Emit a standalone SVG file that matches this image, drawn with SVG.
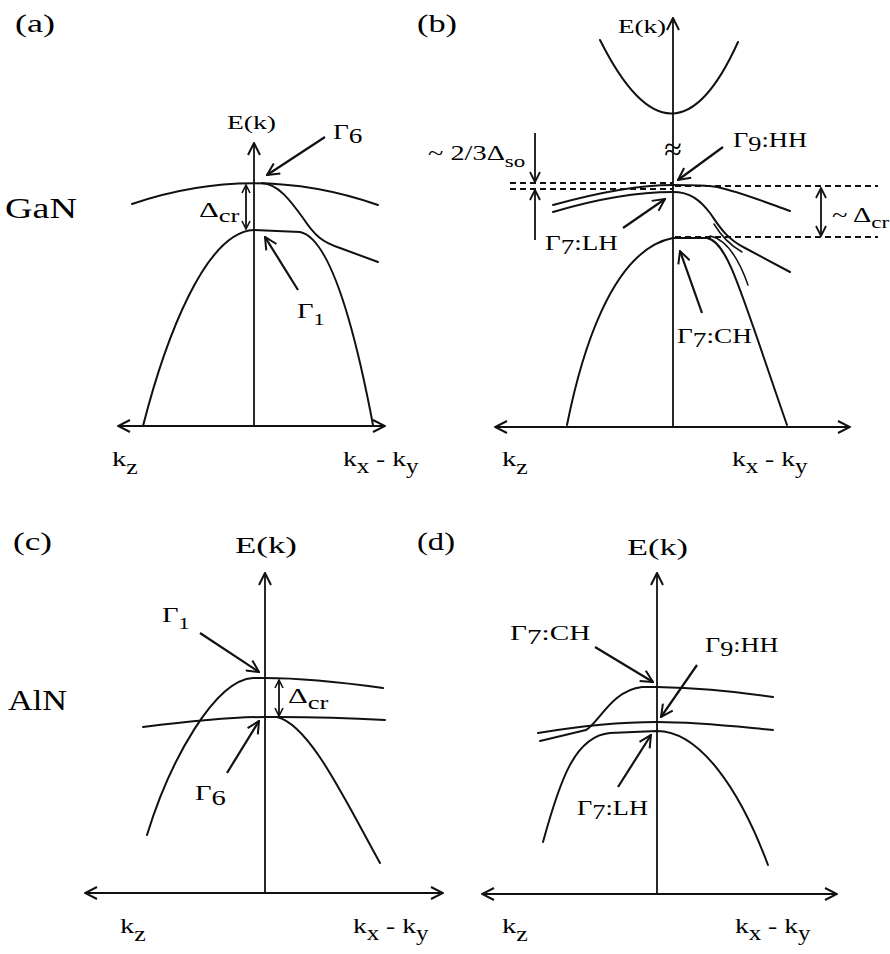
<svg xmlns="http://www.w3.org/2000/svg" width="890" height="954" viewBox="0 0 890 954">
<defs>
<style>
.t{font-family:"Liberation Serif","Times New Roman",serif;fill:#000}
.ln{fill:none;stroke:#111;stroke-width:2;stroke-linecap:round;stroke-linejoin:round}
.thin{fill:none;stroke:#111;stroke-width:1.5;stroke-linecap:round}
.ax{fill:none;stroke:#111;stroke-width:1.8}
.ar{fill:none;stroke:#111;stroke-width:2.2}
.ds{fill:none;stroke:#111;stroke-width:1.8;stroke-dasharray:6 4}
</style>
<marker id="h" viewBox="0 0 14 14" refX="13" refY="7" markerWidth="14" markerHeight="14" markerUnits="userSpaceOnUse" orient="auto-start-reverse"><path d="M1,1 L13,7 L1,13" fill="none" stroke="#111" stroke-width="2"/></marker>
<marker id="m" viewBox="0 0 12 12" refX="11" refY="6" markerWidth="12" markerHeight="12" markerUnits="userSpaceOnUse" orient="auto-start-reverse"><path d="M1,1 L11,6 L1,11" fill="none" stroke="#111" stroke-width="1.8"/></marker>
<marker id="s" viewBox="0 0 10 10" refX="9" refY="5" markerWidth="10" markerHeight="10" markerUnits="userSpaceOnUse" orient="auto-start-reverse"><path d="M1,1 L9,5 L1,9" fill="none" stroke="#111" stroke-width="1.6"/></marker>
</defs>
<rect width="890" height="954" fill="#fff"/>

<!-- Panel (a) GaN -->
<g id="panel-a">
  <g id="a-bands">
    <path class="ln" d="M132,204 Q255,162 378,205"/>
    <path class="ln" d="M262,183 C278,184 290,200 303,218 C315,236 322,242 340,248 L378,262"/>
    <path class="ln" d="M143,426 C165,340 205,232 254,230 L300,232 C330,238 355,330 373,425"/>
  </g>
  <g id="a-labels">
    <text class="t" x="15" y="32" font-size="26" textLength="40" lengthAdjust="spacingAndGlyphs">(a)</text>
    <text class="t" x="5" y="218" font-size="29" textLength="72" lengthAdjust="spacingAndGlyphs">GaN</text>
    <text class="t" x="227" y="129" font-size="18" textLength="49" lengthAdjust="spacingAndGlyphs">E(k)</text>
    <text class="t" font-size="21" transform="translate(333,139) scale(1.3,1)">Γ<tspan dy="4">6</tspan></text>
    <text class="t" font-size="22" transform="translate(199,217) scale(1.4,1)">Δ<tspan font-size="19" dy="5">cr</tspan></text>
    <text class="t" font-size="22" transform="translate(297,318) scale(1.3,1)">Γ<tspan font-size="17" dy="7">1</tspan></text>
    <text class="t" font-size="22" transform="translate(112,466) scale(1.3,1)">k<tspan font-size="20" dy="8">z</tspan></text>
    <text class="t" font-size="22" transform="translate(343,466) scale(1.25,1)">k<tspan font-size="20" dy="7">x</tspan><tspan dy="-7"> - k</tspan><tspan font-size="20" dy="7">y</tspan></text>
  </g>
</g>

<!-- Panel (b) GaN with spin-orbit -->
<g id="panel-b">
  <g id="b-bands">
    <path class="ln" d="M600,40 Q673,186 738,42"/>
    <path class="ln" d="M553,205 C600,192 640,185 673,185 C690,185 705,185 717,187 C740,192 765,202 790,211"/>
    <path class="ln" d="M553,212 C600,198 640,192 673,192 C690,192 700,200 710,213 C718,224 725,238 745,248 L790,272"/>
    <path class="thin" d="M714,224 C720,234 728,244 742,252"/>
    <path class="ln" d="M567,425 C580,360 610,250 673,238 L707,238 C728,242 740,290 787,425"/>
    <path class="thin" d="M710,236 C730,240 742,268 748,285"/>
  </g>
  <g id="b-labels">
    <text class="t" x="417" y="32" font-size="26" textLength="40" lengthAdjust="spacingAndGlyphs">(b)</text>
    <text class="t" x="618" y="33" font-size="18" textLength="48" lengthAdjust="spacingAndGlyphs">E(k)</text>
    <text class="t" x="673" y="160" font-size="32" text-anchor="middle">≈</text>
    <text class="t" font-size="21" transform="translate(733,147) scale(1.26,1)">Γ<tspan dy="4">9</tspan><tspan dy="-4">:HH</tspan></text>
    <text class="t" font-size="21" transform="translate(428,160) scale(1.35,1)">~ 2/3Δ<tspan font-size="17" dy="7">so</tspan></text>
    <text class="t" font-size="21" transform="translate(545,250) scale(1.29,1)">Γ<tspan dy="4">7</tspan><tspan dy="-4">:LH</tspan></text>
    <text class="t" font-size="21" transform="translate(677,343) scale(1.3,1)">Γ<tspan dy="4">7</tspan><tspan dy="-4">:CH</tspan></text>
    <text class="t" font-size="21" transform="translate(832,222) scale(1.36,1)">~ Δ<tspan font-size="17" dy="6">cr</tspan></text>
    <text class="t" font-size="22" transform="translate(502,466) scale(1.3,1)">k<tspan font-size="20" dy="8">z</tspan></text>
    <text class="t" font-size="22" transform="translate(732,466) scale(1.25,1)">k<tspan font-size="20" dy="7">x</tspan><tspan dy="-7"> - k</tspan><tspan font-size="20" dy="7">y</tspan></text>
  </g>
</g>

<!-- Panel (c) AlN -->
<g id="panel-c">
  <g id="c-bands">
    <path class="ln" d="M147,835 C170,760 215,680 253,678 L265,678 C300,678 340,682 383,688"/>
    <path class="ln" d="M143,727 C200,720 240,717 265,717 L277,717 C320,717 350,718 385,720"/>
    <path class="ln" d="M277,717 C310,725 345,800 380,863"/>
  </g>
  <g id="c-labels">
    <text class="t" x="13" y="550" font-size="26" textLength="39" lengthAdjust="spacingAndGlyphs">(c)</text>
    <text class="t" x="235" y="553" font-size="24" textLength="62" lengthAdjust="spacingAndGlyphs">E(k)</text>
    <text class="t" x="8" y="710" font-size="30" textLength="59" lengthAdjust="spacingAndGlyphs">AlN</text>
    <text class="t" font-size="22" transform="translate(162,622) scale(1.3,1)">Γ<tspan font-size="17" dy="7">1</tspan></text>
    <text class="t" font-size="22" transform="translate(288,703) scale(1.4,1)">Δ<tspan font-size="19" dy="6">cr</tspan></text>
    <text class="t" font-size="22" transform="translate(195,800) scale(1.3,1)">Γ<tspan dy="5">6</tspan></text>
    <text class="t" font-size="22" transform="translate(120,933) scale(1.3,1)">k<tspan font-size="20" dy="8">z</tspan></text>
    <text class="t" font-size="22" transform="translate(353,933) scale(1.25,1)">k<tspan font-size="20" dy="7">x</tspan><tspan dy="-7"> - k</tspan><tspan font-size="20" dy="7">y</tspan></text>
  </g>
</g>

<!-- Panel (d) AlN with spin-orbit -->
<g id="panel-d">
  <g id="d-bands">
    <path class="ln" d="M540,741 L586,730 C598,724 612,690 642,687 L657,687 C700,688 740,692 773,697"/>
    <path class="ln" d="M538,733 C580,726 620,722 657,722 C700,722 740,727 773,730"/>
    <path class="ln" d="M543,842 C560,780 575,736 610,733 L657,731 C700,731 740,790 768,865"/>
  </g>
  <g id="d-labels">
    <text class="t" x="417" y="550" font-size="26" textLength="38" lengthAdjust="spacingAndGlyphs">(d)</text>
    <text class="t" x="627" y="555" font-size="24" textLength="61" lengthAdjust="spacingAndGlyphs">E(k)</text>
    <text class="t" font-size="22" transform="translate(510,640) scale(1.33,1)">Γ<tspan dy="4">7</tspan><tspan dy="-4">:CH</tspan></text>
    <text class="t" font-size="22" transform="translate(705,652) scale(1.19,1)">Γ<tspan dy="4">9</tspan><tspan dy="-4">:HH</tspan></text>
    <text class="t" font-size="22" transform="translate(577,815) scale(1.2,1)">Γ<tspan dy="4">7</tspan><tspan dy="-4">:LH</tspan></text>
    <text class="t" font-size="22" transform="translate(502,933) scale(1.3,1)">k<tspan font-size="20" dy="8">z</tspan></text>
    <text class="t" font-size="22" transform="translate(735,933) scale(1.25,1)">k<tspan font-size="20" dy="7">x</tspan><tspan dy="-7"> - k</tspan><tspan font-size="20" dy="7">y</tspan></text>
  </g>
</g>

<!-- Connectors: axes, pointer arrows, gap markers -->
<g id="connectors">
  <path class="ax" d="M254,426 V143" marker-end="url(#h)"/>
  <path class="ax" d="M118,426 H385" marker-start="url(#h)" marker-end="url(#h)"/>
  <path class="ar" d="M325,137 L267,175" marker-end="url(#h)"/>
  <path class="ar" d="M298,290 L265,237" marker-end="url(#h)"/>
  <path class="ax" d="M246,185 V229" marker-start="url(#s)" marker-end="url(#s)"/>

  <path class="ax" d="M673,427 V18" marker-end="url(#h)"/>
  <path class="ax" d="M495,427 H850" marker-start="url(#h)" marker-end="url(#h)"/>
  <path class="ds" d="M510,183 H673"/>
  <path class="ds" d="M510,189 H673"/>
  <path class="ds" d="M675,186 H878"/>
  <path class="ds" d="M675,237 H878"/>
  <path class="ar" d="M723,147 L678,180" marker-end="url(#h)"/>
  <path class="ar" d="M623,228 L665,199" marker-end="url(#h)"/>
  <path class="ar" d="M702,313 L680,251" marker-end="url(#h)"/>
  <path class="ax" d="M535,133 V182" marker-end="url(#m)"/>
  <path class="ax" d="M535,240 V190" marker-end="url(#m)"/>
  <path class="ax" d="M821,188 V236" marker-start="url(#m)" marker-end="url(#m)"/>

  <path class="ax" d="M265,893 V573" marker-end="url(#h)"/>
  <path class="ax" d="M85,893 H443" marker-start="url(#h)" marker-end="url(#h)"/>
  <path class="ar" d="M200,633 L259,672" marker-end="url(#h)"/>
  <path class="ar" d="M227,773 L259,721" marker-end="url(#h)"/>
  <path class="ax" d="M279,680 V716" marker-start="url(#s)" marker-end="url(#s)"/>

  <path class="ax" d="M657,894 V573" marker-end="url(#h)"/>
  <path class="ax" d="M482,894 H837" marker-start="url(#h)" marker-end="url(#h)"/>
  <path class="ar" d="M595,647 L653,682" marker-end="url(#h)"/>
  <path class="ar" d="M697,665 L661,717" marker-end="url(#h)"/>
  <path class="ar" d="M618,787 L651,735" marker-end="url(#h)"/>
</g>
</svg>
